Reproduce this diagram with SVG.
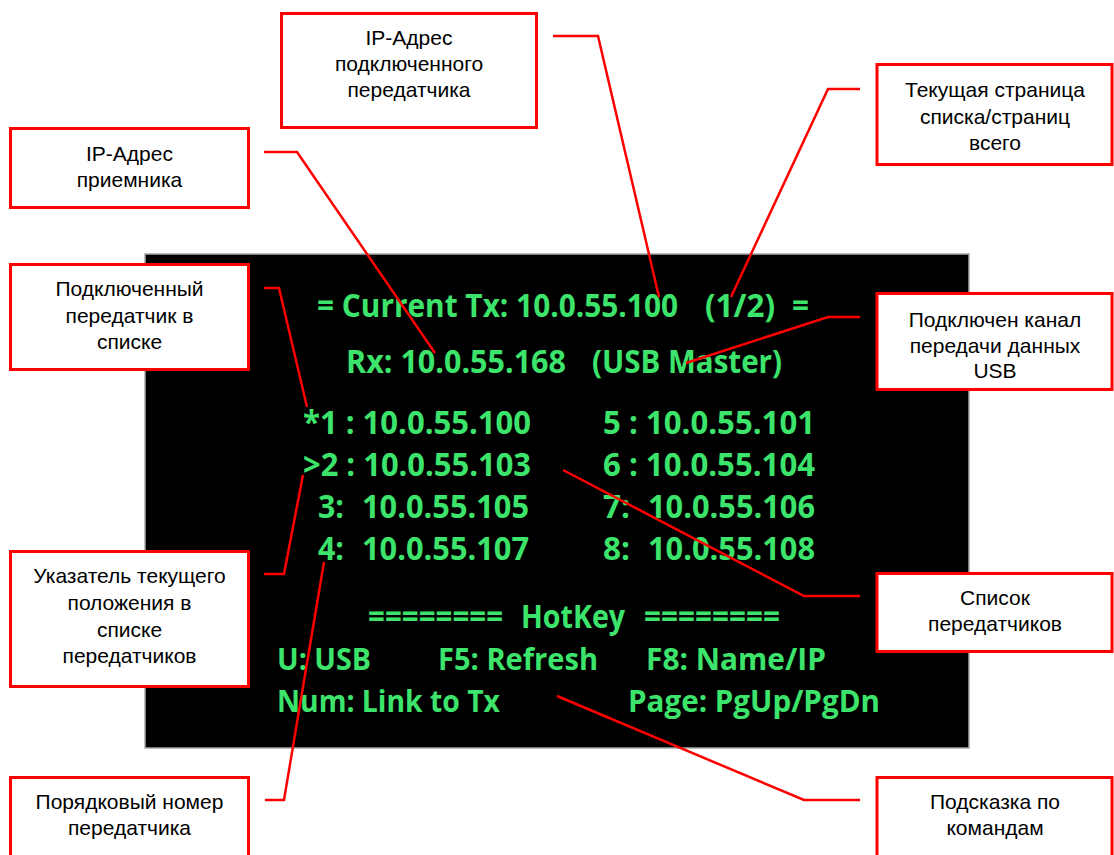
<svg xmlns="http://www.w3.org/2000/svg" width="1114" height="855" viewBox="0 0 1114 855">
<style>
.box{fill:#fff;stroke:#ff0000;stroke-width:3}
.lbl{font-family:"Liberation Sans",Arial,sans-serif;font-size:21px;fill:#000;text-anchor:middle}
.scr{font-family:"Open Sans","Noto Sans",sans-serif;font-weight:700;font-size:32px;fill:#3de46c}
.hk{font-size:31px}
.con{fill:none;stroke:#ff0000;stroke-width:2.5;stroke-linejoin:miter}
</style>
<rect width="1114" height="855" fill="#fff"/>
<g id="screen">
<rect x="145" y="254" width="824" height="494" fill="#000" stroke="#a8a8a8" stroke-width="1.5"/>
<text class="scr" x="317" y="317" textLength="361" lengthAdjust="spacingAndGlyphs">= Current Tx: 10.0.55.100</text>
<text class="scr" x="705" y="317" textLength="70" lengthAdjust="spacingAndGlyphs">(1/2)</text>
<text class="scr" x="792" y="317" textLength="17" lengthAdjust="spacingAndGlyphs">=</text>
<text class="scr" x="346" y="373" textLength="220" lengthAdjust="spacingAndGlyphs">Rx: 10.0.55.168</text>
<text class="scr" x="592" y="373" textLength="190" lengthAdjust="spacingAndGlyphs">(USB Master)</text>
<text class="scr" x="303" y="434" textLength="228" lengthAdjust="spacingAndGlyphs">*1 : 10.0.55.100</text>
<text class="scr" x="603" y="434" textLength="212" lengthAdjust="spacingAndGlyphs">5 : 10.0.55.101</text>
<text class="scr" x="303" y="476" textLength="228" lengthAdjust="spacingAndGlyphs">&gt;2 : 10.0.55.103</text>
<text class="scr" x="603" y="476" textLength="212" lengthAdjust="spacingAndGlyphs">6 : 10.0.55.104</text>
<text class="scr" x="318" y="518" textLength="26" lengthAdjust="spacingAndGlyphs">3:</text>
<text class="scr" x="362" y="518" textLength="167" lengthAdjust="spacingAndGlyphs">10.0.55.105</text>
<text class="scr" x="603" y="518" textLength="27" lengthAdjust="spacingAndGlyphs">7:</text>
<text class="scr" x="648" y="518" textLength="167" lengthAdjust="spacingAndGlyphs">10.0.55.106</text>
<text class="scr" x="318" y="560" textLength="26" lengthAdjust="spacingAndGlyphs">4:</text>
<text class="scr" x="362" y="560" textLength="167" lengthAdjust="spacingAndGlyphs">10.0.55.107</text>
<text class="scr" x="603" y="560" textLength="27" lengthAdjust="spacingAndGlyphs">8:</text>
<text class="scr" x="648" y="560" textLength="167" lengthAdjust="spacingAndGlyphs">10.0.55.108</text>
<text class="scr" x="368" y="628" textLength="135" lengthAdjust="spacingAndGlyphs">========</text>
<text class="scr" x="521" y="628" textLength="104" lengthAdjust="spacingAndGlyphs">HotKey</text>
<text class="scr" x="644" y="628" textLength="136" lengthAdjust="spacingAndGlyphs">========</text>
<text class="scr hk" x="277" y="670" textLength="94" lengthAdjust="spacingAndGlyphs">U: USB</text>
<text class="scr hk" x="438" y="670" textLength="160" lengthAdjust="spacingAndGlyphs">F5: Refresh</text>
<text class="scr hk" x="646" y="670" textLength="180" lengthAdjust="spacingAndGlyphs">F8: Name/IP</text>
<text class="scr hk" x="277" y="712" textLength="223" lengthAdjust="spacingAndGlyphs">Num: Link to Tx</text>
<text class="scr hk" x="628" y="712" textLength="252" lengthAdjust="spacingAndGlyphs">Page: PgUp/PgDn</text>
</g>
<g id="connectors">
<polyline class="con" points="553,36 598,36 659,297"/>
<polyline class="con" points="264,152 297,152 435,353"/>
<polyline class="con" points="860,89 828,89 731,297"/>
<polyline class="con" points="264,288 279,288 307,407"/>
<polyline class="con" points="860,317 828,317 686,363"/>
<polyline class="con" points="264,574 284,574 303,475"/>
<polyline class="con" points="860,596 804,596 563,470"/>
<polyline class="con" points="265,800 284,800 324,562"/>
<polyline class="con" points="860,800 804,800 557,696"/>
</g>
<g id="n-ip-tx">
<rect class="box" x="281.5" y="13.5" width="255" height="114"/>
<text class="lbl" x="409" y="45">IP-Адрес</text>
<text class="lbl" x="409" y="71">подключенного</text>
<text class="lbl" x="409" y="97">передатчика</text>
</g>
<g id="n-ip-rx">
<rect class="box" x="10.5" y="128.5" width="238" height="79"/>
<text class="lbl" x="129.5" y="161">IP-Адрес</text>
<text class="lbl" x="129.5" y="187">приемника</text>
</g>
<g id="n-connected">
<rect class="box" x="10.5" y="264.5" width="238" height="105"/>
<text class="lbl" x="129.5" y="296">Подключенный</text>
<text class="lbl" x="129.5" y="323">передатчик в</text>
<text class="lbl" x="129.5" y="349">списке</text>
</g>
<g id="n-pointer">
<rect class="box" x="10.5" y="551.5" width="238" height="135"/>
<text class="lbl" x="129.5" y="583">Указатель текущего</text>
<text class="lbl" x="129.5" y="610">положения в</text>
<text class="lbl" x="129.5" y="637">списке</text>
<text class="lbl" x="129.5" y="663">передатчиков</text>
</g>
<g id="n-number">
<rect class="box" x="10.5" y="777.5" width="238" height="90"/>
<text class="lbl" x="129.5" y="809">Порядковый номер</text>
<text class="lbl" x="129.5" y="835">передатчика</text>
</g>
<g id="n-page">
<rect class="box" x="877" y="64.5" width="235" height="100"/>
<text class="lbl" x="995" y="97">Текущая страница</text>
<text class="lbl" x="995" y="124">списка/страниц</text>
<text class="lbl" x="995" y="150">всего</text>
</g>
<g id="n-usb">
<rect class="box" x="877" y="293.5" width="235" height="96"/>
<text class="lbl" x="995" y="327">Подключен канал</text>
<text class="lbl" x="995" y="353">передачи данных</text>
<text class="lbl" x="995" y="378">USB</text>
</g>
<g id="n-list">
<rect class="box" x="877" y="573.5" width="235" height="78"/>
<text class="lbl" x="995" y="605">Список</text>
<text class="lbl" x="995" y="631">передатчиков</text>
</g>
<g id="n-hint">
<rect class="box" x="877" y="777.5" width="235" height="90"/>
<text class="lbl" x="995" y="809">Подсказка по</text>
<text class="lbl" x="995" y="835">командам</text>
</g>
</svg>
